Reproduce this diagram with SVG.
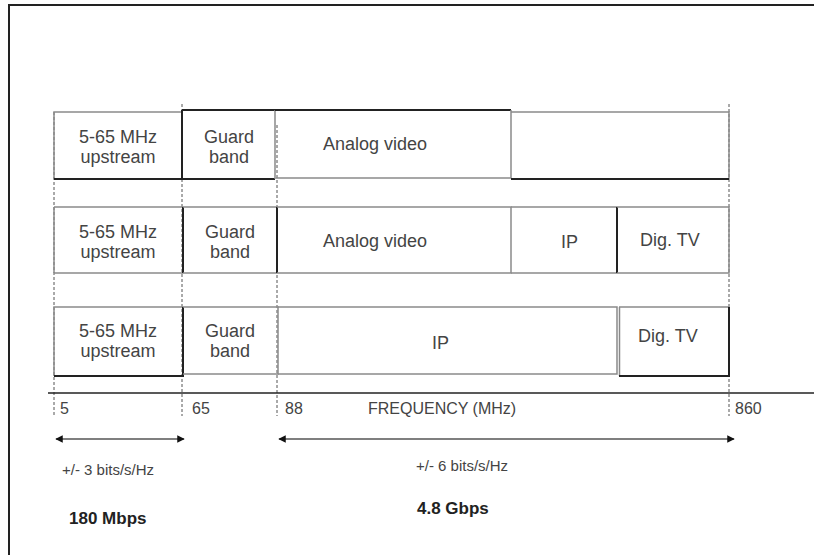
<svg xmlns="http://www.w3.org/2000/svg" width="814" height="555" viewBox="0 0 814 555">
<style>
text{font-family:"Liberation Sans",Arial,sans-serif;fill:#444}
.lbl{font-size:18px;text-anchor:middle}
.lbs{font-size:18px}
.ax{font-size:16px}
.rate{font-size:15px}
.bold{font-size:17px;font-weight:bold;fill:#222}
.g{stroke:#8a8a8a;stroke-width:1.5;fill:none}
.d{stroke:#222;stroke-width:2;fill:none}
.dash{stroke:#555;stroke-width:1;stroke-dasharray:3 2;fill:none}
.arr{stroke:#555;stroke-width:1.5;fill:none}
</style>
<defs>
<marker id="ah" viewBox="0 0 10 10" refX="9" refY="5" markerWidth="5" markerHeight="5" orient="auto-start-reverse">
<path d="M0,0 L10,5 L0,10 z" fill="#111"/>
</marker>
</defs>
<rect width="814" height="555" fill="#fff"/>
<!-- frame -->
<path d="M9,555 V5 H814" stroke="#222" stroke-width="2" fill="none"/>

<g id="connectors">
<line class="dash" x1="54" y1="112" x2="54" y2="416"/>
<line class="dash" x1="182" y1="104" x2="182" y2="416"/>
<line class="dash" x1="277" y1="125" x2="277" y2="416"/>
<line class="dash" x1="729" y1="104" x2="729" y2="416"/>
<line x1="48" y1="393" x2="814" y2="393" stroke="#222" stroke-width="1.5"/>
<line class="arr" x1="56" y1="439" x2="184" y2="439" marker-start="url(#ah)" marker-end="url(#ah)"/>
<line class="arr" x1="279" y1="439" x2="734" y2="439" marker-start="url(#ah)" marker-end="url(#ah)"/>
</g>

<!-- Row 1 -->
<g id="r1-upstream">
<path class="g" d="M182,112 H54 V179"/>
<path class="d" d="M54,179 H182 V110"/>
<text class="lbl" x="118" y="143">5-65 MHz</text>
<text class="lbl" x="118" y="163">upstream</text>
</g>
<g id="r1-guard">
<path class="d" d="M182,110 H275 M182,179 H275"/>
<line class="g" x1="275" y1="110" x2="275" y2="179"/>
<text class="lbl" x="229" y="143">Guard</text>
<text class="lbl" x="229" y="163">band</text>
</g>
<g id="r1-analog">
<path class="d" d="M275,110 H511"/>
<path class="g" d="M276,178 H511 V110"/>
<text class="lbs" x="323" y="150">Analog video</text>
</g>
<g id="r1-blank">
<path class="g" d="M511,112 H729 V179"/>
<path class="d" d="M511,179 H729"/>
</g>

<!-- Row 2 -->
<g id="r2-upstream">
<path class="g" d="M54,207 H183 M54,273 H183 M54,207 V273"/>
<line class="d" x1="183" y1="207" x2="183" y2="273"/>
<text class="lbl" x="118" y="238">5-65 MHz</text>
<text class="lbl" x="118" y="258">upstream</text>
</g>
<g id="r2-guard">
<path class="g" d="M183,207 H277 M183,273 H277"/>
<line class="d" x1="277" y1="207" x2="277" y2="273"/>
<text class="lbl" x="230" y="238">Guard</text>
<text class="lbl" x="230" y="258">band</text>
</g>
<g id="r2-analog">
<path class="g" d="M277,207 H511 V273 H277"/>
<text class="lbs" x="323" y="247">Analog video</text>
</g>
<g id="r2-ip">
<path class="g" d="M511,207 H617 M511,273 H617"/>
<line class="d" x1="617" y1="207" x2="617" y2="273"/>
<text class="lbs" x="561" y="248">IP</text>
</g>
<g id="r2-digtv">
<path class="g" d="M617,207 H729 V273 H617"/>
<text class="lbs" x="640" y="246">Dig. TV</text>
</g>

<!-- Row 3 -->
<g id="r3-upstream">
<path class="g" d="M183,307 H54 V376"/>
<path class="d" d="M54,376 H183 V307"/>
<text class="lbl" x="118" y="337">5-65 MHz</text>
<text class="lbl" x="118" y="357">upstream</text>
</g>
<g id="r3-guard">
<path class="g" d="M183,307 H278 V374 H183"/>
<text class="lbl" x="230" y="337">Guard</text>
<text class="lbl" x="230" y="357">band</text>
</g>
<g id="r3-ip">
<path class="g" d="M278,307 H617 V374 H278"/>
<line class="g" x1="619.5" y1="307" x2="619.5" y2="376"/>
<text class="lbs" x="432" y="349">IP</text>
</g>
<g id="r3-digtv">
<path class="g" d="M619,307 H729"/>
<path class="d" d="M619,376 H729 V307"/>
<text class="lbs" x="638" y="342">Dig. TV</text>
</g>

<!-- Axis labels -->
<g id="axis-labels">
<text class="ax" x="60" y="414">5</text>
<text class="ax" x="192" y="414">65</text>
<text class="ax" x="285" y="414">88</text>
<text class="ax" x="368" y="414">FREQUENCY (MHz)</text>
<text class="ax" x="735" y="414">860</text>
</g>
<g id="rates">
<text class="rate" x="62" y="475">+/- 3 bits/s/Hz</text>
<text class="rate" x="416" y="471">+/- 6 bits/s/Hz</text>
<text class="bold" x="69" y="524">180 Mbps</text>
<text class="bold" x="417" y="514">4.8 Gbps</text>
</g>
</svg>
